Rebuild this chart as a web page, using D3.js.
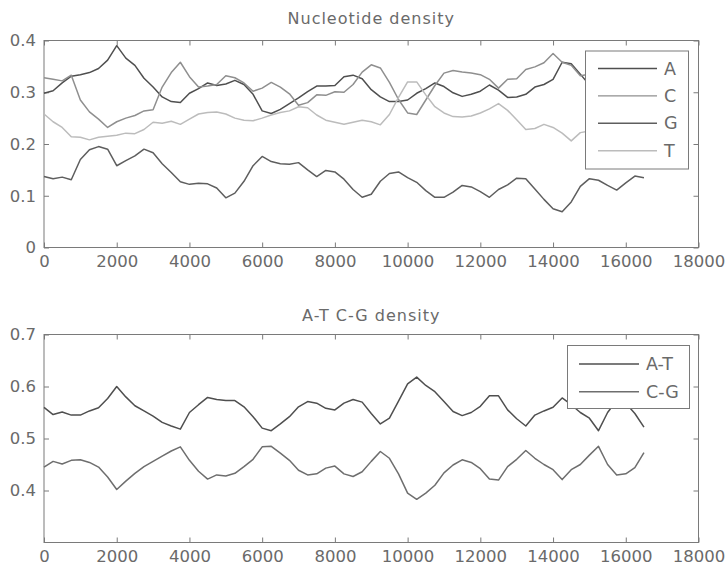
<!DOCTYPE html>
<html>
<head>
<meta charset="utf-8">
<script src="https://cdn.jsdelivr.net/npm/d3@7/dist/d3.min.js"></script>
<style>
  html, body { margin: 0; padding: 0; background: #fff; }
  svg { display: block; font-family: "DejaVu Sans", sans-serif; }
</style>
</head>
<body>
<svg id="chart" width="725" height="570"></svg>
<script>
// sample positions along the genome (bp)
const POSITIONS = d3.range(0, 16501, 250);

// nucleotide densities, one value per position
const A_DENS = [0.298,0.303,0.318,0.331,0.334,0.338,0.346,0.362,0.390,0.366,0.352,0.327,0.310,0.291,0.282,0.280,
  0.298,0.307,0.318,0.313,0.316,0.323,0.315,0.296,0.264,0.259,0.267,0.278,0.289,0.301,0.312,0.312,
  0.313,0.330,0.333,0.326,0.305,0.291,0.282,0.282,0.285,0.298,0.307,0.318,0.311,0.299,0.292,0.296,
  0.302,0.314,0.304,0.290,0.291,0.296,0.310,0.315,0.325,0.358,0.355,0.335,0.314,0.285,0.315,0.333,
  0.333,0.318,0.287];
const C_DENS = [0.328,0.325,0.322,0.333,0.285,0.262,0.248,0.232,0.243,0.250,0.255,0.264,0.266,0.310,0.338,0.358,
  0.330,0.310,0.312,0.315,0.332,0.328,0.318,0.302,0.308,0.319,0.310,0.297,0.275,0.280,0.295,0.294,
  0.301,0.300,0.315,0.339,0.353,0.347,0.319,0.286,0.260,0.257,0.285,0.313,0.337,0.342,0.339,0.337,
  0.334,0.325,0.308,0.325,0.326,0.344,0.349,0.357,0.375,0.358,0.352,0.332,0.335,0.355,0.330,0.319,
  0.307,0.306,0.338];
const G_DENS = [0.137,0.133,0.136,0.131,0.170,0.189,0.195,0.190,0.158,0.168,0.177,0.190,0.183,0.162,0.145,0.127,
  0.122,0.124,0.123,0.115,0.096,0.105,0.128,0.158,0.176,0.166,0.162,0.161,0.164,0.150,0.137,0.149,
  0.146,0.132,0.112,0.097,0.103,0.128,0.143,0.146,0.135,0.126,0.110,0.097,0.097,0.107,0.120,0.117,
  0.108,0.097,0.112,0.121,0.134,0.133,0.113,0.093,0.075,0.069,0.088,0.118,0.133,0.130,0.120,0.111,
  0.125,0.138,0.135];
const T_DENS = [0.258,0.243,0.232,0.214,0.213,0.208,0.213,0.215,0.217,0.221,0.220,0.228,0.242,0.240,0.244,0.238,
  0.248,0.258,0.261,0.262,0.258,0.250,0.246,0.245,0.250,0.256,0.261,0.264,0.272,0.270,0.256,0.246,
  0.242,0.238,0.242,0.246,0.243,0.237,0.257,0.290,0.320,0.320,0.295,0.272,0.260,0.253,0.252,0.254,
  0.260,0.268,0.278,0.265,0.247,0.228,0.230,0.238,0.232,0.221,0.206,0.222,0.225,0.230,0.235,0.240,
  0.235,0.230,0.235];

// pair densities
const AT_DENS = [0.560,0.546,0.551,0.545,0.545,0.553,0.559,0.577,0.600,0.580,0.563,0.553,0.543,0.531,0.524,0.518,
  0.550,0.565,0.579,0.575,0.573,0.573,0.561,0.542,0.520,0.515,0.528,0.542,0.561,0.571,0.568,0.558,
  0.555,0.568,0.575,0.570,0.548,0.528,0.539,0.572,0.605,0.618,0.602,0.590,0.571,0.552,0.544,0.550,
  0.562,0.582,0.582,0.555,0.538,0.524,0.545,0.553,0.560,0.578,0.565,0.550,0.539,0.515,0.550,0.573,
  0.568,0.548,0.522];
const CG_DENS = [0.445,0.456,0.451,0.458,0.459,0.454,0.445,0.426,0.402,0.418,0.433,0.446,0.456,0.466,0.476,0.484,
  0.458,0.437,0.422,0.430,0.428,0.433,0.446,0.460,0.484,0.485,0.472,0.458,0.439,0.430,0.432,0.443,
  0.447,0.432,0.427,0.436,0.456,0.475,0.462,0.432,0.395,0.383,0.395,0.410,0.434,0.449,0.459,0.454,
  0.442,0.422,0.420,0.446,0.460,0.477,0.462,0.450,0.440,0.421,0.440,0.450,0.468,0.485,0.450,0.430,
  0.432,0.444,0.473];

const X_TICKS = [0,2000,4000,6000,8000,10000,12000,14000,16000,18000];
const NUC_Y_TICKS = [0,0.1,0.2,0.3,0.4];
const PAIR_Y_TICKS = [0.4,0.5,0.6,0.7];

const svg = d3.select('#chart');
const AXIS_COL = '#7a7a7a', TEXT_COL = '#6a6a6a';

function drawPanel(cfg) {
  const { top, bottom, left, right } = cfg;
  const x = d3.scaleLinear().domain([0, 18000]).range([left, right]);
  const y = d3.scaleLinear().domain(cfg.yDomain).range([bottom, top]);
  const g = svg.append('g');

  const fmt = d => d === 0 ? '0' : d3.format('.1f')(d);

  // ticks point inward on all four sides, labels only bottom/left
  const xb = g.append('g').attr('transform', `translate(0,${bottom})`)
    .call(d3.axisBottom(x).tickValues(X_TICKS).tickSizeInner(-5).tickSizeOuter(0).tickPadding(8).tickFormat(d3.format('d')));
  const xt = g.append('g').attr('transform', `translate(0,${top})`)
    .call(d3.axisTop(x).tickValues(X_TICKS).tickSizeInner(-5).tickSizeOuter(0).tickFormat(''));
  const yl = g.append('g').attr('transform', `translate(${left},0)`)
    .call(d3.axisLeft(y).tickValues(cfg.yTicks).tickSizeInner(-5).tickSizeOuter(0).tickPadding(8).tickFormat(fmt));
  const yr = g.append('g').attr('transform', `translate(${right},0)`)
    .call(d3.axisRight(y).tickValues(cfg.yTicks).tickSizeInner(-5).tickSizeOuter(0).tickFormat(''));

  [xb, xt, yl, yr].forEach(a => {
    a.select('.domain').remove();
    a.selectAll('line').attr('stroke', AXIS_COL);
    a.selectAll('text').attr('fill', TEXT_COL).style('font-size', '16.5px')
      .style('font-family', '"DejaVu Sans", sans-serif');
  });

  g.append('rect').attr('x', left).attr('y', top)
    .attr('width', right - left).attr('height', bottom - top)
    .attr('fill', 'none').attr('stroke', AXIS_COL).attr('stroke-width', 1);

  g.append('text').attr('x', (left + right) / 2).attr('y', cfg.titleY)
    .attr('text-anchor', 'middle')
    .attr('fill', TEXT_COL).style('font-size', '16px').style('letter-spacing', '1px')
    .text(cfg.title);

  const line = d3.line().x((d, i) => x(POSITIONS[i])).y(d => y(d));
  cfg.series.forEach(s => {
    g.append('path').datum(s.values).attr('d', line)
      .attr('fill', 'none').attr('stroke', s.color).attr('stroke-width', 1.5)
      .attr('stroke-linejoin', 'round');
  });

  // legend box sits over the lines (white fill hides them)
  const L = cfg.legend;
  const lg = g.append('g');
  lg.append('rect').attr('x', L.x).attr('y', L.y).attr('width', L.w).attr('height', L.h)
    .attr('fill', '#fff').attr('stroke', AXIS_COL);
  cfg.series.forEach((s, i) => {
    const ry = L.firstRow + i * L.rowStep;
    lg.append('line').attr('x1', L.lineX1).attr('x2', L.lineX2).attr('y1', ry).attr('y2', ry)
      .attr('stroke', s.color).attr('stroke-width', 1.4);
    lg.append('text').attr('x', L.textX).attr('y', ry).attr('dominant-baseline', 'central')
      .attr('fill', TEXT_COL).style('font-size', '17.5px').text(s.name);
  });
}

drawPanel({
  top: 40.5, bottom: 247.5, left: 44, right: 698.5,
  yDomain: [0, 0.4], yTicks: NUC_Y_TICKS,
  title: 'Nucleotide density', titleY: 24,
  series: [
    { name: 'A', values: A_DENS, color: '#4f4f4f' },
    { name: 'C', values: C_DENS, color: '#8f8f8f' },
    { name: 'G', values: G_DENS, color: '#5e5e5e' },
    { name: 'T', values: T_DENS, color: '#bcbcbc' }
  ],
  legend: { x: 585.5, y: 51, w: 103, h: 118, lineX1: 598, lineX2: 657, textX: 664, firstRow: 68.5, rowStep: 27.4 }
});

drawPanel({
  top: 334.5, bottom: 542.5, left: 44, right: 698.5,
  yDomain: [0.3, 0.7], yTicks: PAIR_Y_TICKS,
  title: 'A-T C-G density', titleY: 321,
  series: [
    { name: 'A-T', values: AT_DENS, color: '#4f4f4f' },
    { name: 'C-G', values: CG_DENS, color: '#6e6e6e' }
  ],
  legend: { x: 567.5, y: 345.5, w: 122, h: 63, lineX1: 579, lineX2: 639, textX: 646, firstRow: 364, rowStep: 27.7 }
});
</script>
</body>
</html>
